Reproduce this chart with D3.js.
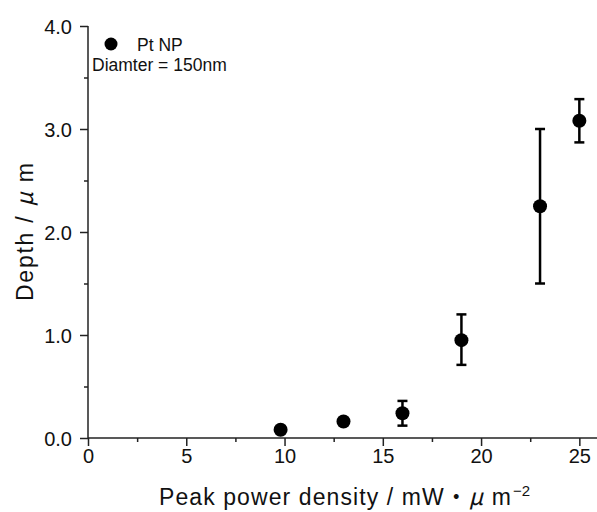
<!DOCTYPE html>
<html><head><meta charset="utf-8">
<script src="https://cdn.jsdelivr.net/npm/d3@7"></script>
<style>body{margin:0;background:#fff}svg{display:block}</style>
</head><body>
<svg id="c" width="597" height="512"></svg>
<script>
const power = [9.8, 13.0, 16.0, 19.0, 23.0, 25.0];
const depth = [0.08, 0.16, 0.24, 0.95, 2.25, 3.08];
const errLow = [0.08, 0.16, 0.12, 0.71, 1.50, 2.87];
const errHigh = [0.08, 0.16, 0.36, 1.20, 3.00, 3.29];
const xTicks = [0, 5, 10, 15, 20, 25];
const yTicks = [0, 1, 2, 3, 4];
const seriesName = "Pt NP";
const note = "Diamter = 150nm";

const svg = d3.select("#c");
const font = "'Liberation Sans', Arial, sans-serif";
const cjk = "'Noto Sans CJK JP', 'Liberation Sans', sans-serif";
const x = d3.scaleLinear().domain([0, 26]).range([88, 599]);
const y = d3.scaleLinear().domain([0, 4]).range([438, 26]);

// x axis
const xa = svg.append("g").attr("transform", "translate(0,438)")
  .call(d3.axisBottom(x).tickValues(d3.range(0, 26, 2.5))
    .tickSize(4).tickFormat(v => xTicks.includes(v) ? v : ""));
xa.select(".domain").attr("stroke", "#222").attr("stroke-width", 1.5).attr("d", "M88,0H597");
xa.selectAll(".tick line").attr("stroke", "#222").attr("stroke-width", 1.5)
  .attr("y2", d => xTicks.includes(d) ? 8 : 4);
xa.selectAll(".tick text").attr("y", 25).attr("dy", 0).attr("font-family", font)
  .attr("font-size", 20).attr("fill", "#111");

// y axis
const ya = svg.append("g").attr("transform", "translate(88,0)")
  .call(d3.axisLeft(y).tickValues(d3.range(0, 4.01, 0.5))
    .tickSize(4).tickFormat(v => yTicks.includes(v) ? v.toFixed(1) : ""));
ya.select(".domain").attr("stroke", "#222").attr("stroke-width", 1.5).attr("d", `M0,${y(4)}V438`);
ya.selectAll(".tick line").attr("stroke", "#222").attr("stroke-width", 1.5)
  .attr("x2", d => yTicks.includes(d) ? -8 : -4);
ya.selectAll(".tick text").attr("x", -16).attr("dy", 7).attr("font-family", font)
  .attr("font-size", 20).attr("fill", "#111");

// axis titles
const yt = svg.append("text").attr("transform", "translate(33,232) rotate(-90)").attr("text-anchor", "middle")
  .attr("font-family", font).attr("font-size", 23).attr("fill", "#111")
  .attr("textLength", 138).attr("lengthAdjust", "spacing");
yt.append("tspan").text("Depth / ");
yt.append("tspan").attr("font-family", cjk).attr("font-style", "italic").text("μ");
yt.append("tspan").text(" m");

const xt = svg.append("text").attr("x", 159).attr("y", 505)
  .attr("font-family", font).attr("font-size", 23).attr("fill", "#111")
  .attr("textLength", 352).attr("lengthAdjust", "spacing");
xt.append("tspan").text("Peak power density / mW");
xt.append("tspan").attr("font-family", cjk).text("・");
xt.append("tspan").attr("font-family", cjk).attr("font-style", "italic").text("μ");
xt.append("tspan").text(" m");
svg.append("text").attr("x", 513).attr("y", 496).attr("font-family", font).attr("font-size", 15)
  .attr("fill", "#111").text("−2");

// error bars and points
const g = svg.append("g");
power.forEach((p, i) => {
  if (errHigh[i] - errLow[i] > 0.001) {
    g.append("line").attr("x1", x(p)).attr("x2", x(p)).attr("y1", y(errHigh[i])).attr("y2", y(errLow[i]))
      .attr("stroke", "#000").attr("stroke-width", 2.5);
    [errHigh[i], errLow[i]].forEach(v => g.append("line").attr("x1", x(p) - 5).attr("x2", x(p) + 5)
      .attr("y1", y(v)).attr("y2", y(v)).attr("stroke", "#000").attr("stroke-width", 2.5));
  }
  g.append("circle").attr("cx", x(p)).attr("cy", y(depth[i])).attr("r", 7).attr("fill", "#000");
});

// legend
svg.append("circle").attr("cx", 111).attr("cy", 44).attr("r", 6.5).attr("fill", "#000");
svg.append("text").attr("x", 137).attr("y", 51).attr("font-family", font).attr("font-size", 17.5).attr("fill", "#111").text(seriesName);
svg.append("text").attr("x", 92).attr("y", 71).attr("font-family", font).attr("font-size", 17.5).attr("fill", "#111").text(note);
</script>
</body></html>
